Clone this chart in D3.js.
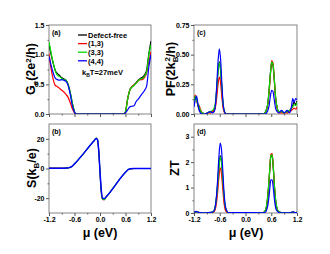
<!DOCTYPE html>
<html lang="en">
<head>
<meta charset="UTF-8">
<title>Thermoelectric panels</title>
<script src="https://d3js.org/d3.v7.min.js"></script>
<style>
  body { margin:0; background:#fff; }
  svg { display:block; font-family:"Liberation Sans", Arial, sans-serif; }
  .tick text { font-size:7px; font-weight:bold; fill:#000; }
</style>
</head>
<body>
<svg id="chart" width="330" height="254"></svg>
<script>
// ---- data ----
var seriesNames = ["Defect-free", "(1,3)", "(3,3)", "(4,4)"];
var seriesColors = ["#000000", "#ff0000", "#00dd00", "#0000ff"];

// (a) conductance
var muA = [-1.2,-1.15,-1.1,-1.05,-1.0,-0.95,-0.9,-0.85,-0.8,-0.75,-0.7,-0.65,-0.6,-0.56,
           0.56,0.6,0.65,0.7,0.75,0.8,0.85,0.9,0.95,1.0,1.05,1.1,1.15,1.2];
var gDefect = [1.18,1.0,0.85,0.73,0.68,0.65,0.61,0.59,0.57,0.5,0.36,0.18,0.04,0,
               0,0.04,0.25,0.4,0.46,0.49,0.53,0.57,0.6,0.62,0.66,0.75,1.02,1.23];
var g13 = [1.02,0.76,0.58,0.48,0.46,0.43,0.4,0.37,0.33,0.28,0.19,0.09,0.02,0,
           0,0.04,0.25,0.4,0.46,0.49,0.52,0.56,0.58,0.58,0.62,0.7,0.88,1.05];
var g33 = [1.22,1.03,0.86,0.72,0.65,0.63,0.6,0.58,0.57,0.5,0.36,0.18,0.04,0,
           0,0.04,0.25,0.4,0.45,0.48,0.52,0.56,0.59,0.6,0.64,0.72,1.0,1.17];
var g44 = [0.97,0.82,0.69,0.6,0.58,0.57,0.58,0.57,0.55,0.48,0.33,0.14,0.03,0,
           0,0.02,0.07,0.12,0.13,0.14,0.21,0.25,0.3,0.35,0.4,0.48,0.8,1.0];

// (b) Seebeck
var muB = [-1.2,-1.0,-0.85,-0.78,-0.72,-0.66,-0.6,-0.15,-0.09,-0.06,-0.03,0.0,0.03,0.06,0.1,0.15,0.61,0.67,0.72,0.8,1.0,1.2];
var sDefect = [0.2,0.2,0.2,0.3,0.6,1.4,3.1,18.4,20.4,19.6,12,-2,-15,-20.3,-20.6,-19,-2.3,-0.7,-0.2,0,0,0];
var s13 = [0.2,0.2,0.2,0.3,0.6,1.4,3.1,18.4,20.5,19.6,12,-3,-16,-21,-21.2,-19.3,-2.3,-0.7,-0.2,0,0,0];
var s33 = [0.2,0.2,0.2,0.3,0.6,1.4,3.1,18.4,20.5,19.6,12,-3,-16,-20.8,-21,-19.2,-2.3,-0.7,-0.2,0,0,0];
var s44 = [0.2,0.2,0.2,0.3,0.6,1.4,3.1,18.3,20.2,19.4,12,-2,-14.5,-20,-20.3,-18.9,-2.2,-0.6,-0.1,0,0,0];

// (c) power factor
var muC = [-1.2,-1.17,-1.14,-1.11,-1.08,-1.05,-1.01,-0.95,-0.88,-0.82,-0.77,-0.73,-0.7,-0.67,-0.64,-0.61,-0.58,-0.55,-0.52,-0.49,-0.45,-0.4,
           0.4,0.45,0.49,0.52,0.55,0.58,0.61,0.64,0.67,0.7,0.74,0.78,0.84,0.9,0.97,1.03,1.07,1.1,1.13,1.17,1.2];
var pfDefect = [0.1,0.15,0.13,0.07,0.04,0.02,0.01,0,0.01,0.02,0.02,0.03,0.08,0.2,0.36,0.44,0.37,0.2,0.07,0.02,0,0,
                0,0.01,0.04,0.09,0.2,0.34,0.43,0.41,0.29,0.14,0.05,0.02,0.02,0.01,0.02,0.03,0.05,0.07,0.1,0.08,0.11];
var pf13 = [0.12,0.16,0.12,0.08,0.07,0.04,0.01,0,0.01,0.01,0.02,0.03,0.06,0.14,0.25,0.31,0.26,0.14,0.05,0.01,0,0,
            0,0.01,0.03,0.08,0.18,0.33,0.45,0.43,0.3,0.14,0.04,0.01,0.01,0.01,0.01,0.02,0.03,0.04,0.05,0.04,0.06];
var pf33 = [0.1,0.15,0.12,0.08,0.06,0.03,0.01,0,0.01,0.02,0.03,0.05,0.1,0.22,0.36,0.43,0.37,0.22,0.08,0.02,0,0,
            0,0.01,0.04,0.09,0.2,0.34,0.44,0.42,0.3,0.15,0.05,0.02,0.02,0.01,0.02,0.03,0.05,0.06,0.08,0.07,0.1];
var pf44 = [0.06,0.12,0.15,0.09,0.03,0.01,0,0,0.01,0.02,0.01,0.02,0.08,0.24,0.44,0.55,0.46,0.25,0.08,0.02,0,0,
            0,0,0.01,0.03,0.07,0.15,0.2,0.19,0.12,0.05,0.02,0.01,0.03,0.01,0.03,0.01,0.06,0.13,0.1,0.13,0.12];

// (d) figure of merit
var muD = [-1.2,-1.15,-1.1,-1.0,-0.85,-0.75,-0.71,-0.68,-0.65,-0.62,-0.59,-0.56,-0.53,-0.5,-0.46,-0.4,
           0.4,0.46,0.5,0.53,0.56,0.59,0.62,0.65,0.68,0.72,0.78,0.9,1.05,1.1,1.15,1.2];
var ztDefect = [0.02,0.05,0.03,0.01,0.02,0.05,0.2,0.55,1.1,1.8,2.25,2.05,1.35,0.6,0.15,0.01,
                0.01,0.08,0.35,0.85,1.55,2.2,2.28,1.7,0.9,0.28,0.04,0.01,0.01,0.04,0.02,0.03];
var zt13 = [0.02,0.05,0.03,0.01,0.01,0.03,0.12,0.35,0.8,1.4,1.78,1.55,0.95,0.4,0.08,0,
            0.01,0.08,0.35,0.85,1.6,2.3,2.35,1.75,0.9,0.25,0.03,0.01,0.01,0.03,0.02,0.02];
var zt33 = [0.02,0.05,0.03,0.01,0.02,0.05,0.22,0.55,1.1,1.75,2.2,2.0,1.35,0.65,0.18,0.02,
            0.01,0.1,0.4,0.9,1.6,2.25,2.3,1.75,0.95,0.3,0.05,0.01,0.01,0.04,0.02,0.03];
var zt44 = [0.02,0.06,0.03,0.01,0.02,0.05,0.2,0.6,1.3,2.2,2.75,2.5,1.7,0.8,0.2,0.02,
            0.01,0.03,0.15,0.4,0.85,1.3,1.3,0.95,0.45,0.12,0.02,0.01,0.01,0.05,0.02,0.02];

// ticks
var xTicks = [-1.2,-0.6,0,0.6,1.2];
var xMinor = [-0.9,-0.3,0.3,0.9];
var xTickLabels = ["-1.2","-0.6","0.0","0.6","1.2"];
var aTicks = [0,0.5,1,1.5], aLabels = ["0.0","0.5","1.0","1.5"], aMinor = [0.25,0.75,1.25];
var bTicks = [-20,0,20], bLabels = ["-20","0","20"], bMinor = [-10,10];
var cTicks = [0,0.25,0.5,0.75], cLabels = ["0.00","0.25","0.50","0.75"], cMinor = [0.125,0.375,0.625];
var dTicks = [0,1,2,3], dLabels = ["0","1","2","3"], dMinor = [0.5,1.5,2.5];

// ---- drawing ----
var svg = d3.select("#chart");

function panel(opt) {
  var x = d3.scaleLinear().domain([-1.2, 1.2]).range([opt.left, opt.right]);
  var y = d3.scaleLinear().domain(opt.yDomain).range([opt.bottom, opt.top]);
  var g = svg.append("g");
  var clipId = "clip" + opt.name;
  g.append("clipPath").attr("id", clipId).append("rect")
    .attr("x", opt.left).attr("y", opt.top)
    .attr("width", opt.right - opt.left).attr("height", opt.bottom - opt.top);

  // minor ticks
  g.append("g").attr("transform", "translate(0," + opt.bottom + ")")
    .call(d3.axisBottom(x).tickValues(xMinor).tickSize(1.5).tickFormat(""))
    .call(function(s) { s.select(".domain").remove(); });
  g.append("g").attr("transform", "translate(" + opt.left + ",0)")
    .call(d3.axisLeft(y).tickValues(opt.yMinor).tickSize(1.5).tickFormat(""))
    .call(function(s) { s.select(".domain").remove(); });

  var xa = g.append("g").attr("transform", "translate(0," + opt.bottom + ")")
    .call(d3.axisBottom(x).tickValues(xTicks).tickSize(3).tickPadding(1.5)
      .tickFormat(function(d, i) { return opt.xLabels ? xTickLabels[i] : ""; }));
  xa.select(".domain").remove();

  var ya = g.append("g").attr("transform", "translate(" + opt.left + ",0)")
    .call(d3.axisLeft(y).tickValues(opt.yTicks).tickSize(3).tickPadding(1.5)
      .tickFormat(function(d, i) { return opt.yLabels[i]; }));
  ya.select(".domain").remove();
  g.selectAll(".tick line").attr("stroke", "#555");

  g.append("rect").attr("x", opt.left).attr("y", opt.top)
    .attr("width", opt.right - opt.left).attr("height", opt.bottom - opt.top)
    .attr("fill", "none").attr("stroke", "#666").attr("stroke-width", 0.8);

  var line = d3.line().curve(d3.curveMonotoneX)
    .x(function(d) { return x(d[0]); })
    .y(function(d) { return y(d[1]); });

  opt.series.forEach(function(vals, k) {
    var w = opt.widths ? opt.widths[k] : 1.2;
    g.append("path")
      .datum(opt.mu.map(function(m, i) { return [m, vals[i]]; }))
      .attr("clip-path", "url(#" + clipId + ")")
      .attr("fill", "none")
      .attr("stroke", seriesColors[k])
      .attr("stroke-width", w)
      .attr("d", line);
  });

  g.append("text").attr("x", opt.left + 3).attr("y", opt.top + 10)
    .attr("font-size", 7).attr("font-weight", "bold").text(opt.tag);
  return g;
}

panel({ name: "a", left: 49, right: 151, top: 25, bottom: 114, yDomain: [0, 1.5],
  yTicks: aTicks, yLabels: aLabels, yMinor: aMinor, xLabels: false, tag: "(a)",
  mu: muA, series: [gDefect, g13, g33, g44] });
panel({ name: "b", left: 49, right: 151, top: 124, bottom: 213, yDomain: [-30, 30],
  yTicks: bTicks, yLabels: bLabels, yMinor: bMinor, xLabels: true, tag: "(b)",
  mu: muB, series: [sDefect, s13, s33, s44], widths: [0.9, 1.0, 1.1, 1.5] });
panel({ name: "c", left: 194, right: 297, top: 25, bottom: 114, yDomain: [0, 0.75],
  yTicks: cTicks, yLabels: cLabels, yMinor: cMinor, xLabels: false, tag: "(c)",
  mu: muC, series: [pfDefect, pf13, pf33, pf44] });
panel({ name: "d", left: 194, right: 297, top: 124, bottom: 213, yDomain: [0, 3.5],
  yTicks: dTicks, yLabels: dLabels, yMinor: dMinor, xLabels: true, tag: "(d)",
  mu: muD, series: [ztDefect, zt13, zt33, zt44] });

// legend in (a)
var leg = svg.append("g").attr("font-size", 7.5).attr("font-weight", "bold");
seriesNames.forEach(function(n, i) {
  var yy = 35 + i * 8.6;
  leg.append("line").attr("x1", 78).attr("x2", 87).attr("y1", yy).attr("y2", yy)
    .attr("stroke", seriesColors[i]).attr("stroke-width", 1.3);
  leg.append("text").attr("x", 88).attr("y", yy + 2.7).text(n);
});
var kt = leg.append("text").attr("x", 82).attr("y", 75);
kt.append("tspan").text("k");
kt.append("tspan").attr("dy", 2).attr("font-size", 5).text("B");
kt.append("tspan").attr("dy", -2).text("T=27meV");

// axis titles
function ytitle(cx, cy, parts) {
  var t = svg.append("text").attr("transform", "translate(" + cx + "," + cy + ") rotate(-90)")
    .attr("text-anchor", "middle").attr("font-size", 12.5).attr("font-weight", "bold");
  parts.forEach(function(p) {
    var s = t.append("tspan").text(p[0]);
    if (p[1]) s.attr("dy", p[1]);
    if (p[2]) s.attr("font-size", p[2]);
    if (p[3]) s.attr("dx", p[3]);
  });
}
ytitle(35, 69, [["G"], ["e", 3, 8], ["(2e", -3], ["2", -4, 8], ["/h)", 4]]);
ytitle(36, 168, [["S(k"], ["B", 3, 8], ["/e)", -3]]);
ytitle(175, 69, [["PF(2k"], ["B", 3, 8], ["2", -8, 8, -5], ["/h)", 5]]);
ytitle(179, 168, [["ZT"]]);

[100, 246].forEach(function(cx) {
  svg.append("text").attr("x", cx).attr("y", 237).attr("text-anchor", "middle")
    .attr("font-size", 12.5).attr("font-weight", "bold").text("\u03bc (eV)");
});
</script>
</body>
</html>
